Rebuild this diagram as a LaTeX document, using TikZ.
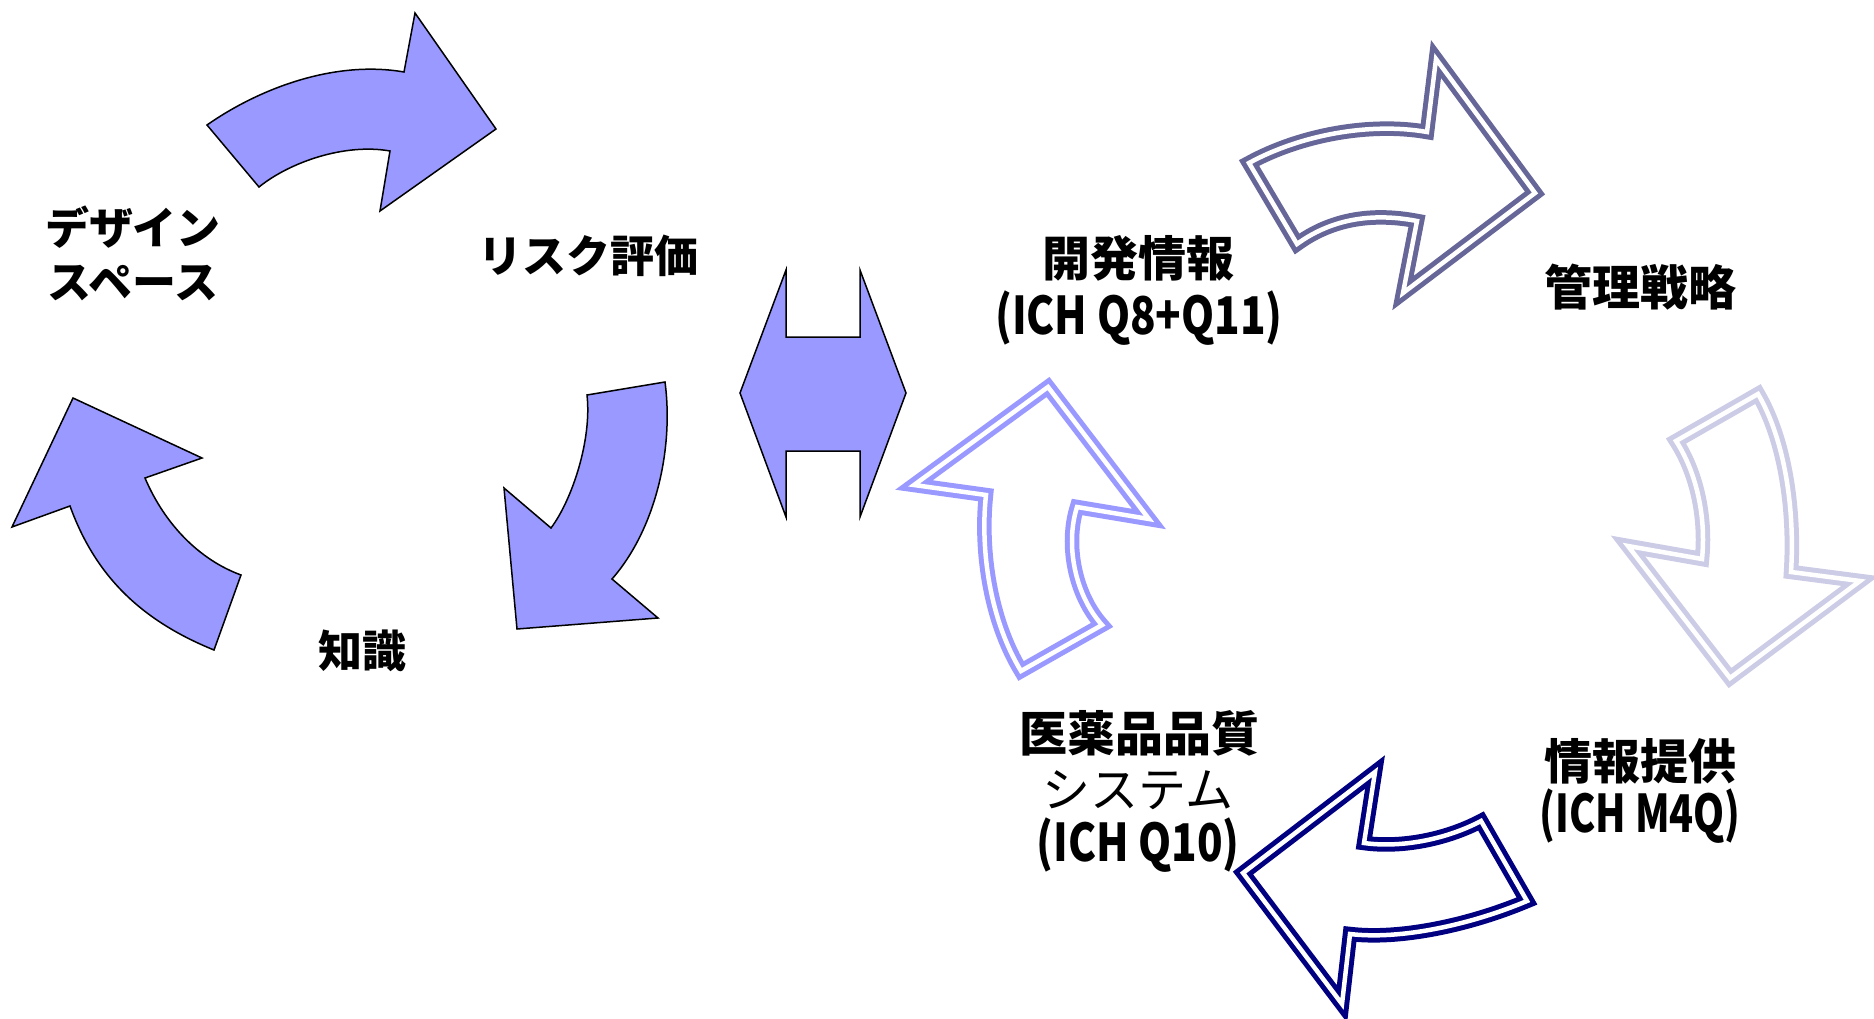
\documentclass[tikz,border=0pt]{standalone}
\usepackage{fontspec}
\usepackage{graphicx}
\newfontfamily\jp{Noto Sans CJK JP}
\definecolor{peri}{HTML}{9999FF}
\definecolor{slate}{HTML}{666699}
\definecolor{pale}{HTML}{CCCCE6}
\definecolor{navyb}{HTML}{000080}
\tikzset{
  solidarrow/.style={fill=peri, draw=black, line width=1.5pt, line join=miter},
  dblarrow/.style={draw=#1, double=white, double distance=4.5pt, line width=5pt, line join=miter, miter limit=10},
  lbl/.style={font=\jp\bfseries\fontsize{44}{50}\selectfont, inner sep=0pt},
  rlbl/.style={font=\jp\bfseries\fontsize{48}{54}\selectfont, inner sep=0pt},
  rlat/.style={font=\jp\bfseries\fontsize{52}{56}\selectfont, inner sep=0pt},
}
\begin{document}
\begin{tikzpicture}[x=1pt,y=-1pt]
\useasboundingbox (0,0) rectangle (1874,1019);
% ---------- left cycle ----------
\draw[solidarrow] (207,125) .. controls (260,88) and (335,60) .. (404,72) -- (415,13) -- (496,129) -- (380,211) -- (390,151) .. controls (345,143) and (290,162) .. (259,187) -- cycle;
\draw[solidarrow] (587,395) -- (665,382) .. controls (674,450) and (655,530) .. (612,579) -- (658,618) -- (517,629) -- (504,488) -- (551,528) .. controls (572,500) and (592,440) .. (587,395) -- cycle;
\draw[solidarrow] (73,398) -- (202,458) -- (145,478) .. controls (165,525) and (200,560) .. (241,575) -- (214,650) .. controls (140,620) and (95,575) .. (70,506) -- (12,527) -- cycle;
% ---------- double headed connector ----------
\draw[solidarrow] (786,270) -- (786,337) -- (860,337) -- (860,270) -- (906,393) -- (860,517) -- (860,451) -- (786,451) -- (786,517) -- (740,393) -- cycle;
% ---------- right cycle ----------
\draw[dblarrow=slate] (1249,163) .. controls (1300,135) and (1370,122) .. (1427,132) -- (1436,59) -- (1535,193) -- (1403,293) -- (1417,221) .. controls (1370,212) and (1330,220) .. (1297,244) -- cycle;
\draw[dblarrow=pale] (1676,441) -- (1758,394) .. controls (1785,440) and (1795,510) .. (1791,572) -- (1860,581) -- (1730,678) -- (1628,546) -- (1702,559) .. controls (1706,520) and (1698,475) .. (1676,441) -- cycle;
\draw[dblarrow=navyb] (1481,821) -- (1527,901) .. controls (1470,925) and (1400,940) .. (1350,934) -- (1342,1004) -- (1243,873) -- (1375,772) -- (1364,843) .. controls (1400,848) and (1445,840) .. (1481,821) -- cycle;
\draw[dblarrow=peri] (1048,387) -- (1149,519) -- (1077,507) .. controls (1065,545) and (1075,595) .. (1102,625) -- (1021,671) .. controls (990,620) and (980,550) .. (986,495) -- (914,485) -- cycle;
% ---------- labels ----------
\node[lbl] (ds1) at (133,227) {デザイン};
\node[lbl] (ds2) at (133,283) {スペース};
\node[lbl] (risk) at (588,256) {リスク評価};
\node[lbl] (know) at (362,651) {知識};
\node[rlbl] (dev1) at (1138,258) {開発情報};
\node[rlat] (dev2) at (1139,318) {\scalebox{0.81}[1]{(ICH Q8+Q11)}};
\node[rlbl] (ctrl) at (1640,287) {管理戦略};
\node[rlbl] (info1) at (1640,761) {情報提供};
\node[rlat] (info2) at (1640,816) {\scalebox{0.76}[1]{(ICH M4Q)}};
\node[rlbl] (pqs1) at (1139,733) {医薬品品質};
\node[rlbl,font=\jp\fontsize{48}{54}\selectfont] (pqs2) at (1138,790) {システム};
\node[rlat] (pqs3) at (1138,845) {\scalebox{0.81}[1]{(ICH Q10)}};
\end{tikzpicture}
\end{document}
